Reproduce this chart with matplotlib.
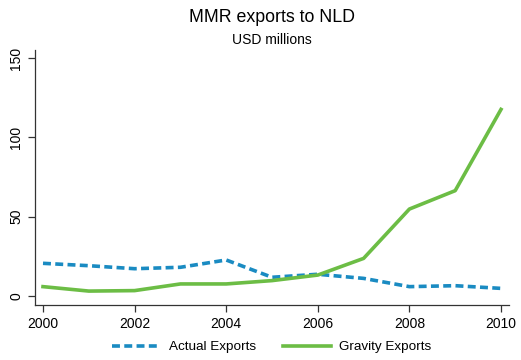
import matplotlib.pyplot as plt

plt.rcParams['font.family'] = ['Liberation Sans', 'DejaVu Sans']

years = [2000, 2001, 2002, 2003, 2004, 2005, 2006, 2007, 2008, 2009, 2010]
actual = [20.6, 19.1, 17.2, 18.1, 22.7, 11.8, 13.7, 11.1, 5.9, 6.5, 4.8]
gravity = [5.9, 3.1, 3.4, 7.6, 7.6, 9.7, 13.2, 23.7, 54.8, 66.4, 117.6]
xticks = [2000, 2002, 2004, 2006, 2008, 2010]
yticks = [0, 50, 100, 150]

blue = "#1a8bc2"
green = "#6cbd45"

fig = plt.figure(figsize=(5.21, 3.60), dpi=100)
ax = fig.add_axes([35/521, 1 - 305/360, (509-35)/521, (305-50)/360])

ax.plot(years, actual, color=blue, lw=2.6, linestyle=(0, (2.2, 1.2)), label="Actual Exports")
ax.plot(years, gravity, color=green, lw=2.6, label="Gravity Exports")

ax.set_xlim(2000 - 8/45.8, 2010 + 8/45.8)
ax.set_ylim(-9/1.587, 150 + 8/1.587)
ax.set_xticks(xticks)
ax.set_yticks(yticks)
ax.tick_params(axis='both', labelsize=10, length=5, width=0.9, color="#333333")
for lab in ax.get_yticklabels():
    lab.set_rotation(90)
    lab.set_va('center')
for s in ['top', 'right']:
    ax.spines[s].set_visible(False)
for s in ['left', 'bottom']:
    ax.spines[s].set_linewidth(0.9)
    ax.spines[s].set_color("#333333")

fig.text(272/521, 1 - 17/360, "MMR exports to NLD", ha='center', va='center', fontsize=12.8)
fig.text(272/521, 1 - 40/360, "USD millions", ha='center', va='center', fontsize=10)

fig.legend(loc='center', bbox_to_anchor=(272/521, 1 - 347/360), ncol=2, frameon=False,
           fontsize=9.7, handlelength=3.6, columnspacing=2.0, handletextpad=0.6)

fig.savefig("out.png", dpi=100)
